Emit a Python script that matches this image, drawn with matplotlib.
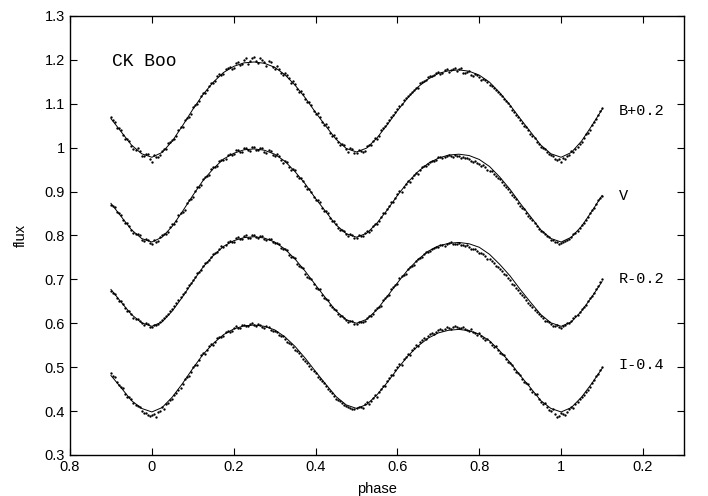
import numpy as np
import matplotlib
matplotlib.use("Agg")
import matplotlib.pyplot as plt

# model light curves, sampled every 0.025 in phase
model_phase = np.round(np.arange(-0.1, 1.1001, 0.025), 3)
model_b = [1.066, 1.036, 1.006, 0.986, 0.978, 0.989, 1.015, 1.050, 1.087, 1.121, 1.149, 1.171, 1.185,
           1.193, 1.195, 1.192, 1.183, 1.166, 1.142, 1.113, 1.080, 1.049, 1.019, 0.998, 0.990,
           0.999, 1.022, 1.052, 1.084, 1.113, 1.138, 1.156, 1.169, 1.175, 1.177, 1.174, 1.165,
           1.149, 1.125, 1.097, 1.066, 1.036, 1.006, 0.986, 0.978, 0.989, 1.015, 1.050, 1.087]
model_v = [0.873, 0.843, 0.813, 0.793, 0.785, 0.796, 0.821, 0.855, 0.891, 0.925, 0.952, 0.974, 0.987,
           0.995, 0.997, 0.994, 0.985, 0.969, 0.945, 0.917, 0.884, 0.854, 0.824, 0.804, 0.796,
           0.805, 0.828, 0.858, 0.891, 0.921, 0.945, 0.964, 0.976, 0.983, 0.985, 0.982, 0.973,
           0.957, 0.933, 0.905, 0.873, 0.843, 0.813, 0.793, 0.785, 0.796, 0.821, 0.855, 0.891]
model_r = [0.677, 0.648, 0.620, 0.601, 0.593, 0.603, 0.628, 0.660, 0.695, 0.728, 0.754, 0.775, 0.788,
           0.795, 0.797, 0.794, 0.785, 0.769, 0.746, 0.718, 0.687, 0.657, 0.628, 0.608, 0.600,
           0.609, 0.631, 0.661, 0.692, 0.721, 0.745, 0.764, 0.776, 0.782, 0.784, 0.781, 0.773,
           0.757, 0.734, 0.708, 0.677, 0.648, 0.620, 0.601, 0.593, 0.603, 0.628, 0.660, 0.695]
model_i = [0.481, 0.453, 0.424, 0.406, 0.398, 0.408, 0.432, 0.463, 0.497, 0.529, 0.554, 0.574, 0.587,
           0.594, 0.596, 0.593, 0.585, 0.569, 0.547, 0.520, 0.490, 0.461, 0.433, 0.414, 0.406,
           0.415, 0.437, 0.465, 0.496, 0.525, 0.548, 0.566, 0.578, 0.584, 0.586, 0.583, 0.575,
           0.560, 0.537, 0.511, 0.481, 0.453, 0.424, 0.406, 0.398, 0.408, 0.432, 0.463, 0.497]

# observed points, first night: one every 0.01 in phase
obs_phase = np.round(np.arange(-0.1, 1.1001, 0.01), 2)
obs_b = [1.070, 1.058, 1.045, 1.028, 1.020, 1.003, 0.995, 0.992, 0.980, 0.985, 0.968,
         0.978, 0.984, 0.997, 1.010, 1.018, 1.026, 1.046, 1.062, 1.070, 1.092,
         1.100, 1.118, 1.125, 1.141, 1.147, 1.162, 1.165, 1.178, 1.184, 1.182,
         1.195, 1.190, 1.203, 1.198, 1.207, 1.192, 1.200, 1.186, 1.195, 1.178,
         1.180, 1.165, 1.165, 1.148, 1.145, 1.127, 1.121, 1.103, 1.096, 1.077,
         1.070, 1.052, 1.046, 1.027, 1.022, 1.006, 1.005, 0.991, 0.996, 0.987,
         0.992, 0.993, 1.006, 1.016, 1.020, 1.040, 1.049, 1.062, 1.075, 1.088,
         1.100, 1.112, 1.123, 1.131, 1.136, 1.150, 1.155, 1.162, 1.166, 1.172,
         1.170, 1.178, 1.176, 1.182, 1.178, 1.170, 1.172, 1.166, 1.168, 1.160,
         1.156, 1.150, 1.140, 1.132, 1.121, 1.110, 1.101, 1.086, 1.075, 1.062,
         1.050, 1.040, 1.026, 1.012, 1.002, 0.996, 0.985, 0.980, 0.972, 0.968,
         0.975, 0.984, 0.990, 1.002, 1.012, 1.030, 1.040, 1.058, 1.075, 1.090]
obs_v = [0.870, 0.864, 0.851, 0.834, 0.828, 0.812, 0.803, 0.800, 0.787, 0.790, 0.781,
         0.786, 0.797, 0.804, 0.808, 0.826, 0.832, 0.852, 0.859, 0.880, 0.888,
         0.910, 0.915, 0.933, 0.937, 0.956, 0.958, 0.972, 0.975, 0.986, 0.985,
         0.994, 0.989, 0.999, 0.993, 1.001, 0.994, 0.998, 0.988, 0.992, 0.980,
         0.982, 0.966, 0.967, 0.950, 0.948, 0.930, 0.925, 0.905, 0.900, 0.880,
         0.875, 0.856, 0.850, 0.832, 0.826, 0.812, 0.810, 0.799, 0.801, 0.794,
         0.798, 0.805, 0.808, 0.822, 0.826, 0.843, 0.850, 0.868, 0.876, 0.894,
         0.900, 0.918, 0.922, 0.938, 0.941, 0.956, 0.957, 0.968, 0.969, 0.978,
         0.977, 0.982, 0.980, 0.983, 0.980, 0.978, 0.977, 0.970, 0.970, 0.962,
         0.960, 0.950, 0.946, 0.935, 0.928, 0.915, 0.906, 0.891, 0.882, 0.866,
         0.860, 0.844, 0.836, 0.822, 0.811, 0.803, 0.796, 0.789, 0.786, 0.782,
         0.787, 0.792, 0.803, 0.810, 0.823, 0.834, 0.850, 0.862, 0.880, 0.890]
obs_r = [0.673, 0.666, 0.650, 0.643, 0.628, 0.622, 0.609, 0.606, 0.597, 0.598, 0.591,
         0.596, 0.603, 0.611, 0.622, 0.633, 0.647, 0.660, 0.672, 0.687, 0.698,
         0.714, 0.722, 0.738, 0.745, 0.758, 0.763, 0.775, 0.778, 0.788, 0.786,
         0.796, 0.792, 0.800, 0.795, 0.802, 0.795, 0.799, 0.790, 0.793, 0.782,
         0.780, 0.768, 0.766, 0.750, 0.748, 0.730, 0.726, 0.705, 0.701, 0.680,
         0.677, 0.658, 0.652, 0.636, 0.630, 0.616, 0.613, 0.603, 0.605, 0.598,
         0.603, 0.606, 0.616, 0.620, 0.635, 0.640, 0.658, 0.664, 0.683, 0.689,
         0.707, 0.712, 0.728, 0.733, 0.747, 0.750, 0.762, 0.764, 0.772, 0.774,
         0.779, 0.780, 0.784, 0.781, 0.783, 0.779, 0.778, 0.770, 0.768, 0.760,
         0.757, 0.746, 0.742, 0.730, 0.724, 0.712, 0.703, 0.690, 0.680, 0.668,
         0.660, 0.645, 0.638, 0.625, 0.617, 0.606, 0.602, 0.594, 0.597, 0.590,
         0.597, 0.601, 0.611, 0.619, 0.632, 0.641, 0.658, 0.668, 0.685, 0.700]
obs_i = [0.486, 0.478, 0.460, 0.452, 0.433, 0.428, 0.413, 0.410, 0.395, 0.390, 0.392,
         0.386, 0.400, 0.405, 0.418, 0.428, 0.441, 0.452, 0.472, 0.480, 0.500,
         0.506, 0.527, 0.530, 0.548, 0.551, 0.566, 0.568, 0.580, 0.581, 0.590,
         0.589, 0.597, 0.594, 0.599, 0.596, 0.598, 0.592, 0.593, 0.584, 0.583,
         0.574, 0.570, 0.558, 0.552, 0.540, 0.533, 0.519, 0.510, 0.495, 0.487,
         0.472, 0.464, 0.450, 0.441, 0.428, 0.422, 0.413, 0.410, 0.404, 0.407,
         0.409, 0.415, 0.416, 0.430, 0.433, 0.451, 0.456, 0.475, 0.482, 0.500,
         0.506, 0.524, 0.528, 0.544, 0.548, 0.561, 0.563, 0.575, 0.576, 0.585,
         0.584, 0.591, 0.588, 0.593, 0.590, 0.591, 0.585, 0.586, 0.577, 0.578,
         0.566, 0.565, 0.551, 0.548, 0.532, 0.527, 0.512, 0.506, 0.488, 0.482,
         0.466, 0.461, 0.443, 0.438, 0.421, 0.418, 0.402, 0.404, 0.386, 0.395,
         0.390, 0.404, 0.408, 0.420, 0.431, 0.443, 0.455, 0.470, 0.485, 0.500]

# second night, shifted half a step in phase
obs2_phase = np.round(np.arange(-0.095, 1.0951, 0.01), 3)
obs2_b = [1.063, 1.044, 1.040, 1.019, 1.015, 0.997, 0.998, 0.982, 0.986, 0.975,
          0.983, 0.979, 0.993, 0.996, 1.013, 1.019, 1.040, 1.047, 1.068, 1.077,
          1.098, 1.106, 1.124, 1.131, 1.148, 1.152, 1.167, 1.168, 1.182, 1.180,
          1.192, 1.187, 1.200, 1.191, 1.204, 1.197, 1.205, 1.194, 1.198, 1.183,
          1.186, 1.170, 1.171, 1.158, 1.152, 1.134, 1.128, 1.110, 1.104, 1.084,
          1.078, 1.059, 1.053, 1.034, 1.028, 1.012, 1.009, 0.996, 0.998, 0.988,
          0.995, 0.990, 1.003, 1.005, 1.021, 1.026, 1.045, 1.055, 1.070, 1.082,
          1.095, 1.108, 1.118, 1.126, 1.135, 1.147, 1.151, 1.160, 1.163, 1.170,
          1.168, 1.176, 1.173, 1.180, 1.175, 1.181, 1.169, 1.174, 1.163, 1.165,
          1.155, 1.153, 1.143, 1.136, 1.126, 1.117, 1.105, 1.094, 1.081, 1.069,
          1.056, 1.046, 1.032, 1.021, 1.008, 0.999, 0.990, 0.983, 0.975, 0.973,
          0.977, 0.980, 0.992, 0.996, 1.008, 1.021, 1.034, 1.052, 1.066, 1.083]
obs2_v = [0.868, 0.853, 0.846, 0.828, 0.821, 0.806, 0.803, 0.790, 0.792, 0.783,
          0.790, 0.788, 0.801, 0.804, 0.819, 0.826, 0.846, 0.853, 0.873, 0.883,
          0.902, 0.911, 0.928, 0.935, 0.951, 0.956, 0.969, 0.972, 0.984, 0.983,
          0.994, 0.990, 1.000, 0.994, 1.002, 0.995, 1.000, 0.991, 0.994, 0.984,
          0.985, 0.972, 0.970, 0.956, 0.952, 0.936, 0.931, 0.913, 0.905, 0.887,
          0.880, 0.862, 0.855, 0.839, 0.832, 0.817, 0.813, 0.803, 0.804, 0.795,
          0.800, 0.799, 0.811, 0.813, 0.827, 0.833, 0.850, 0.860, 0.876, 0.886,
          0.902, 0.910, 0.924, 0.931, 0.942, 0.950, 0.959, 0.962, 0.970, 0.972,
          0.979, 0.978, 0.983, 0.979, 0.982, 0.977, 0.976, 0.974, 0.968, 0.966,
          0.959, 0.955, 0.947, 0.940, 0.930, 0.921, 0.910, 0.899, 0.887, 0.874,
          0.862, 0.851, 0.840, 0.829, 0.815, 0.807, 0.799, 0.790, 0.785, 0.780,
          0.784, 0.789, 0.797, 0.806, 0.816, 0.829, 0.842, 0.857, 0.871, 0.886]
obs2_r = [0.670, 0.657, 0.650, 0.634, 0.627, 0.613, 0.610, 0.600, 0.600, 0.592,
          0.597, 0.598, 0.608, 0.616, 0.628, 0.640, 0.653, 0.666, 0.680, 0.692,
          0.706, 0.716, 0.731, 0.740, 0.752, 0.760, 0.769, 0.774, 0.784, 0.785,
          0.795, 0.791, 0.799, 0.794, 0.801, 0.796, 0.798, 0.791, 0.792, 0.784,
          0.783, 0.772, 0.769, 0.755, 0.750, 0.736, 0.727, 0.713, 0.702, 0.689,
          0.678, 0.665, 0.655, 0.642, 0.633, 0.621, 0.616, 0.607, 0.606, 0.599,
          0.603, 0.602, 0.613, 0.617, 0.630, 0.638, 0.653, 0.662, 0.677, 0.687,
          0.702, 0.710, 0.723, 0.731, 0.742, 0.749, 0.758, 0.763, 0.770, 0.773,
          0.778, 0.777, 0.782, 0.780, 0.781, 0.778, 0.776, 0.773, 0.768, 0.765,
          0.760, 0.753, 0.747, 0.738, 0.729, 0.719, 0.709, 0.698, 0.687, 0.675,
          0.664, 0.653, 0.642, 0.631, 0.621, 0.612, 0.604, 0.599, 0.594, 0.592,
          0.594, 0.600, 0.606, 0.616, 0.626, 0.637, 0.651, 0.663, 0.677, 0.693]
obs2_i = [0.480, 0.466, 0.455, 0.440, 0.431, 0.418, 0.412, 0.401, 0.396, 0.388,
          0.393, 0.397, 0.409, 0.416, 0.425, 0.437, 0.448, 0.462, 0.477, 0.488,
          0.506, 0.516, 0.532, 0.539, 0.552, 0.557, 0.569, 0.572, 0.583, 0.583,
          0.593, 0.590, 0.597, 0.593, 0.600, 0.594, 0.597, 0.589, 0.591, 0.582,
          0.579, 0.571, 0.563, 0.555, 0.546, 0.536, 0.525, 0.513, 0.503, 0.491,
          0.478, 0.468, 0.456, 0.446, 0.434, 0.425, 0.418, 0.411, 0.408, 0.404,
          0.410, 0.408, 0.420, 0.423, 0.437, 0.444, 0.458, 0.468, 0.482, 0.494,
          0.508, 0.518, 0.531, 0.540, 0.550, 0.558, 0.566, 0.571, 0.577, 0.581,
          0.586, 0.588, 0.590, 0.592, 0.591, 0.590, 0.588, 0.583, 0.581, 0.574,
          0.571, 0.562, 0.557, 0.547, 0.540, 0.530, 0.519, 0.510, 0.496, 0.486,
          0.472, 0.463, 0.450, 0.438, 0.428, 0.415, 0.409, 0.400, 0.393, 0.389,
          0.394, 0.398, 0.409, 0.415, 0.427, 0.437, 0.449, 0.465, 0.479, 0.493]

band_labels = ["B+0.2", "V", "R-0.2", "I-0.4"]
label_y = [1.083, 0.889, 0.700, 0.505]

xtick_pos = [-0.2, 0.0, 0.2, 0.4, 0.6, 0.8, 1.0, 1.2]
xtick_labels = ["0.8", "0", "0.2", "0.4", "0.6", "0.8", "1", "0.2"]
ytick_pos = [0.3, 0.4, 0.5, 0.6, 0.7, 0.8, 0.9, 1.0, 1.1, 1.2, 1.3]
ytick_labels = ["0.3", "0.4", "0.5", "0.6", "0.7", "0.8", "0.9", "1", "1.1", "1.2", "1.3"]

plt.rcParams["font.family"] = ["Liberation Sans", "DejaVu Sans"]

fig = plt.figure(figsize=(7.08, 4.96), dpi=100)
ax = fig.add_axes([0.0989, 0.0827, 0.8671, 0.8853])

curves = [(model_b, obs_b, obs2_b), (model_v, obs_v, obs2_v),
          (model_r, obs_r, obs2_r), (model_i, obs_i, obs2_i)]
for model, obs, obs2 in curves:
    ax.plot(model_phase, model, color="black", lw=0.7)
    ax.plot(obs_phase, obs, "o", color="black", ms=1.7, mew=0)
    ax.plot(obs2_phase, obs2, "o", color="black", ms=1.7, mew=0)

for lab, y in zip(band_labels, label_y):
    ax.text(1.14, y, lab, family="Liberation Mono", fontsize=11, va="center", ha="left")
ax.text(-0.098, 1.196, "CK Boo", family="Liberation Mono", fontsize=13, va="center", ha="left")

ax.set_xlim(-0.2, 1.3)
ax.set_ylim(0.3, 1.3)
ax.set_xticks(xtick_pos)
ax.set_xticklabels(xtick_labels)
ax.set_yticks(ytick_pos)
ax.set_yticklabels(ytick_labels)
ax.tick_params(direction="in", length=5, width=0.8, top=True, right=True, labelsize=10.5)
for s in ax.spines.values():
    s.set_linewidth(1.0)
ax.set_xlabel("phase", fontsize=10.5, labelpad=6)
ax.set_ylabel("flux", fontsize=10.5, labelpad=12)

fig.savefig("out.png", dpi=100)
